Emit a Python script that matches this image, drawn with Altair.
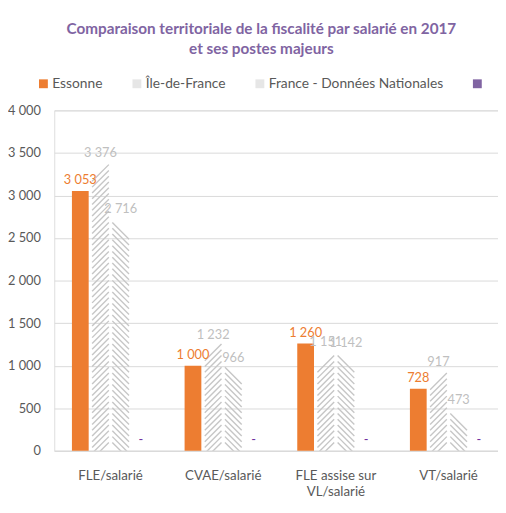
import altair as alt
import pandas as pd

categories = ["FLE/salarié", "CVAE/salarié", "FLE assise sur\nVL/salarié", "VT/salarié"]
series = ["Essonne", "Île-de-France", "France - Données Nationales", " "]
essonne = [3053, 1000, 1260, 728]
ile_de_france = [3376, 1232, 1151, 917]
france = [2716, 966, 1142, 473]
fourth = [0, 0, 0, 0]
y_ticks = [0, 500, 1000, 1500, 2000, 2500, 3000, 3500, 4000]

rows = []
for s, vals in zip(series, [essonne, ile_de_france, france, fourth]):
    for c, v in zip(categories, vals):
        rows.append({"category": c, "series": s, "value": v})
df = pd.DataFrame(rows)

FONT = "Lato"
hatched = [series[1], series[2]]

x_enc = alt.X(
    "category:N", sort=categories,
    scale=alt.Scale(range=[0, 458], paddingInner=0.314, paddingOuter=0.157),
    axis=alt.Axis(title=None, labelAngle=0, ticks=False, domainColor="#d9d9d9",
                  labelFontSize=13.5, labelColor="#595959", labelPadding=18,
                  labelLineHeight=16, labelFont=FONT, labelBaseline="top",
                  labelExpr="split(datum.label, '\\n')"),
)
xo_enc = alt.XOffset("series:N", sort=series,
                     scale=alt.Scale(domain=series, paddingInner=0.17, paddingOuter=0))
y_scale = alt.Scale(domain=[0, 4000], nice=False)
y_axis = alt.Axis(title=None, values=y_ticks, grid=True, gridColor="#d9d9d9", domain=False,
                  ticks=False, labelFontSize=13, labelColor="#595959", labelPadding=14,
                  labelFont=FONT,
                  labelExpr="replace(format(datum.value, ','), ',', ' ')")

base = alt.Chart(df)

bars = base.mark_bar().encode(
    x=x_enc, xOffset=xo_enc,
    y=alt.Y("value:Q", scale=y_scale, axis=y_axis),
    color=alt.Color("series:N", sort=series,
                    scale=alt.Scale(domain=series,
                                    range=["#ed7d31", "#e6e6e6", "#e6e6e6", "#8064a2"]),
                    legend=alt.Legend(title=None, orient="none", legendX=-18, legendY=-34,
                                      direction="horizontal", symbolType="square",
                                      symbolSize=81, symbolStrokeWidth=0,
                                      labelFontSize=14, labelColor="#595959", labelFont=FONT,
                                      labelLimit=0, columnPadding=27, labelOffset=2,
                                      padding=0)),
    fillOpacity=alt.condition(alt.FieldOneOfPredicate(field="series", oneOf=hatched),
                              alt.value(0), alt.value(1)),
)

hatch = base.transform_filter(
    alt.FieldOneOfPredicate(field="series", oneOf=hatched)
).transform_calculate(
    ks="sequence(0, datum.value - 70, 68)"
).transform_flatten(["ks"]).mark_point(
    filled=False, size=289, strokeWidth=1.4, color="#c6c6c6", opacity=1, clip=True
).encode(
    x=x_enc, xOffset=xo_enc,
    y=alt.Y("ks:Q", scale=y_scale, axis=y_axis),
    shape=alt.Shape("series:N", scale=alt.Scale(domain=hatched,
                                                range=["M-1,1L1,-1", "M-1,-1L1,1"]),
                    legend=None),
)

labels = base.transform_calculate(
    lbl="datum.value == 0 ? '-' : replace(format(datum.value, ','), ',', ' ')"
).mark_text(baseline="middle", dy=-11, fontSize=13, font=FONT).encode(
    x=x_enc, xOffset=xo_enc,
    y=alt.Y("value:Q", scale=y_scale, axis=y_axis),
    text="lbl:N",
    color=alt.Color("series:N", sort=series,
                    scale=alt.Scale(domain=series,
                                    range=["#ed7d31", "#bfbfbf", "#bfbfbf", "#7030a0"]),
                    legend=None),
)

chart = alt.layer(bars, hatch, labels).resolve_scale(
    color="independent", shape="independent"
).properties(
    width=451, height=346,
    autosize=alt.AutoSizeParams(type="none"),
    padding={"left": 47, "top": 100, "right": 0, "bottom": 46},
    title=alt.TitleParams(
        ["Comparaison territoriale de la fiscalité par salarié en 2017",
         "et ses postes majeurs"],
        font=FONT, fontSize=15.5, fontWeight="bold", color="#8064a2",
        anchor="middle", dx=-15, lineHeight=20, offset=20),
).configure_view(stroke=None).configure(background="white")

chart.save("out.html", embed_options={"renderer": "svg", "actions": False})
